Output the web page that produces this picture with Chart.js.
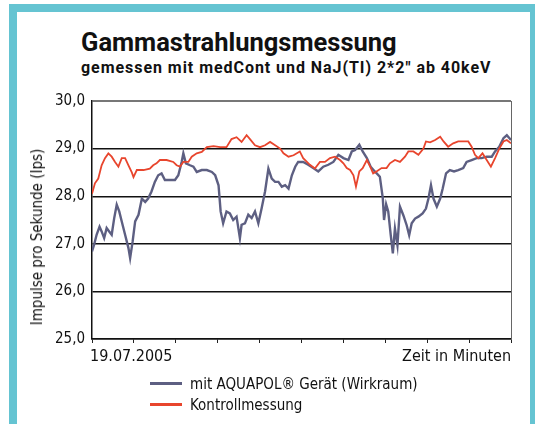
<!DOCTYPE html>
<html lang="de">
<head>
<meta charset="utf-8">
<title>Gammastrahlungsmessung</title>
<script src="https://cdn.jsdelivr.net/npm/chart.js@4.4.1/dist/chart.umd.min.js"></script>
<style>
  html, body { margin: 0; padding: 0; background: #fff; }
  body { width: 535px; height: 424px; position: relative; overflow: hidden; }
  .rahmen { position: absolute; left: 9px; top: 4px; width: 513px; height: 500px; border: 8px solid #65c4d2; }
  .schmal { font-family: "Liberation Sans Narrow", "DejaVu Sans Condensed", sans-serif; color: #111; }
  #titel { position: absolute; left: 81px; top: 29px; font: bold 25.5px Roboto, sans-serif; line-height: 26px; color: #111; }
  #untertitel { position: absolute; left: 81px; top: 60px; font: bold 16px Roboto, sans-serif; letter-spacing: 0.95px; line-height: 16px; color: #111; }
  #diagramm { position: absolute; left: 16px; top: 85px; width: 514px; height: 290px; }
  #ytitel { position: absolute; left: 37px; top: 237px; transform: translate(-50%, -50%) rotate(-90deg); white-space: nowrap; font-size: 15px; }
  #datum { position: absolute; left: 90px; top: 347px; font-size: 16px; line-height: 18px; }
  #zeit { position: absolute; right: 24px; top: 347px; font-size: 16px; line-height: 18px; }
  .legende { position: absolute; left: 150px; font-size: 15px; line-height: 18px; }
  .legende i { display: inline-block; width: 32px; height: 3px; vertical-align: middle; margin-right: 8px; position: relative; top: -1px; }
</style>
</head>
<body>
<div class="rahmen"></div>
<div id="titel">Gammastrahlungsmessung</div>
<div id="untertitel">gemessen mit medCont und NaJ(TI) 2*2" ab 40keV</div>
<div id="diagramm"><canvas id="c"></canvas></div>
<div id="ytitel" class="schmal">Impulse pro Sekunde (Ips)</div>
<div id="datum" class="schmal">19.07.2005</div>
<div id="zeit" class="schmal">Zeit in Minuten</div>
<div class="legende schmal" style="top:375px"><i style="background:#5d5f82"></i>mit AQUAPOL® Gerät (Wirkraum)</div>
<div class="legende schmal" style="top:396px"><i style="background:#e8452d"></i>Kontrollmessung</div>

<script>
// Werte (Zeit als Anteil der Achse 0..100)
const zeitAquapol = [0, 0.5, 1.1, 1.8, 2.3, 2.9, 3.5, 4.1, 4.7, 5.3, 5.9, 6.5, 7.1, 7.9, 8.7, 9.1, 9.7, 10.3, 11.1, 11.9,
  12.7, 13.4, 14.2, 15.0, 15.8, 16.6, 17.4, 18.6, 19.8, 20.6, 21.4, 21.8, 22.4, 23.4, 24.2, 25.0, 26.2, 27.4, 28.6, 29.4,
  30.2, 30.7, 31.3, 32.1, 32.9, 33.7, 34.5, 35.3, 35.7, 36.5, 37.3, 38.1, 38.9, 39.7, 40.5, 41.3, 42.1, 42.9, 43.7, 44.5,
  45.3, 46.1, 46.9, 47.7, 48.5, 49.2, 50.4, 51.6, 52.8, 54.0, 55.2, 56.4, 57.6, 58.8, 60.0, 61.2, 62.0, 62.8, 63.8, 64.6,
  65.6, 66.5, 67.5, 68.7, 69.4, 69.7, 70.2, 70.7, 71.3, 71.8, 72.3, 72.9, 73.5, 74.3, 75.1, 75.7, 76.3, 77.1, 77.9, 78.9,
  79.7, 80.3, 80.9, 81.5, 82.3, 83.1, 83.7, 84.5, 85.4, 86.4, 87.4, 88.6, 89.4, 90.6, 91.8, 93.0, 94.2, 95.4, 96.2, 97.2,
  98.2, 99.0, 100];
const werteAquapol = [26.84, 26.98, 27.19, 27.36, 27.26, 27.12, 27.33, 27.26, 27.19, 27.54, 27.82, 27.68, 27.47, 27.19, 26.91, 26.7, 27.05, 27.47, 27.61, 27.95,
  27.88, 27.95, 28.1, 28.3, 28.44, 28.48, 28.34, 28.34, 28.34, 28.44, 28.72, 28.9, 28.69, 28.65, 28.62, 28.51, 28.55, 28.55, 28.51, 28.44,
  28.23, 27.68, 27.43, 27.68, 27.64, 27.5, 27.57, 27.12, 27.4, 27.43, 27.61, 27.54, 27.68, 27.43, 27.75, 28.1, 28.58, 28.37, 28.3, 28.3,
  28.2, 28.23, 28.16, 28.44, 28.62, 28.72, 28.72, 28.66, 28.59, 28.52, 28.62, 28.66, 28.72, 28.87, 28.8, 28.76, 28.94, 28.97, 29.08, 28.94,
  28.8, 28.62, 28.52, 28.41, 27.96, 27.5, 27.83, 27.68, 27.18, 26.8, 27.32, 26.97, 27.78, 27.6, 27.39, 27.18, 27.43, 27.53, 27.57, 27.64,
  27.74, 27.95, 28.23, 27.95, 27.78, 27.95, 28.16, 28.48, 28.55, 28.52, 28.55, 28.59, 28.72, 28.76, 28.8, 28.8, 28.83, 28.83, 28.94, 29.04,
  29.22, 29.28, 29.18];

const zeitKontrolle = [0, 0.7, 1.5, 2.3, 3.1, 3.9, 4.7, 5.5, 6.3, 7.1, 7.9, 8.7, 9.5, 9.9, 10.7, 12.3, 13.8, 14.6, 15.4, 16.2,
  17.8, 19.4, 20.2, 21.0, 21.8, 23.0, 23.8, 25.0, 26.2, 27.4, 29.0, 30.6, 32.1, 33.3, 34.5, 35.7, 36.9, 37.7, 38.9, 40.1,
  41.3, 42.5, 43.7, 44.9, 45.7, 46.9, 48.1, 49.6, 50.4, 52.0, 53.2, 54.4, 55.6, 56.8, 58.0, 59.2, 60.0, 60.8, 61.6, 62.4,
  63.0, 63.8, 64.6, 65.6, 66.4, 67.1, 67.9, 69.1, 70.3, 71.1, 72.3, 73.5, 74.7, 75.5, 76.7, 77.9, 79.1, 79.7, 80.7, 81.9,
  83.1, 83.9, 85.0, 86.2, 87.4, 88.6, 89.8, 90.6, 91.4, 92.2, 93.2, 94.2, 95.2, 96.2, 97.2, 98.2, 99.0, 100];
const werteKontrolle = [28.05, 28.27, 28.37, 28.65, 28.8, 28.9, 28.83, 28.72, 28.62, 28.8, 28.8, 28.65, 28.5, 28.4, 28.55, 28.55, 28.58, 28.65, 28.69, 28.76,
  28.76, 28.72, 28.65, 28.62, 28.72, 28.72, 28.83, 28.9, 28.93, 29.03, 29.05, 29.03, 29.03, 29.2, 29.24, 29.14, 29.28, 29.2, 29.07, 29.03,
  29.07, 29.14, 29.07, 29.0, 28.9, 28.83, 28.86, 28.94, 28.8, 28.66, 28.58, 28.72, 28.72, 28.8, 28.83, 28.76, 28.69, 28.59, 28.55, 28.44,
  28.2, 28.52, 28.59, 28.76, 28.62, 28.48, 28.52, 28.59, 28.59, 28.69, 28.76, 28.72, 28.83, 28.94, 28.94, 28.87, 29.0, 29.15, 29.13, 29.18,
  29.25, 29.15, 29.04, 29.11, 29.15, 29.15, 29.15, 29.04, 28.87, 28.8, 28.9, 28.76, 28.62, 28.8, 29.0, 29.15, 29.18, 29.11];

const yTicks = [25, 26, 27, 28, 29, 30];

const schmal = "'Liberation Sans Narrow', 'DejaVu Sans Condensed', sans-serif";

function punkte(zeit, werte) {
  return zeit.map((t, i) => ({ x: t, y: werte[i] }));
}

new Chart(document.getElementById("c"), {
  type: "line",
  data: {
    datasets: [
      {
        label: "Kontrollmessung",
        data: punkte(zeitKontrolle, werteKontrolle),
        borderColor: "#e8452d",
        borderWidth: 1.8,
        order: 0,
      },
      {
        label: "mit AQUAPOL® Gerät (Wirkraum)",
        data: punkte(zeitAquapol, werteAquapol),
        borderColor: "#5d5f82",
        borderWidth: 2.4,
        order: 1,
      },
    ],
  },
  options: {
    responsive: true,
    maintainAspectRatio: false,
    animation: false,
    elements: { point: { radius: 0 }, line: { tension: 0 } },
    layout: { padding: { top: 12, right: 19, left: 0, bottom: 0 } },
    plugins: { legend: { display: false }, tooltip: { enabled: false } },
    scales: {
      x: {
        type: "linear",
        min: 0,
        max: 100,
        afterFit: (s) => { s.height = 36; },
        ticks: { stepSize: 10, callback: () => "", font: { size: 1 } },
        grid: { drawOnChartArea: false, drawTicks: true, tickLength: 4, color: "#222", lineWidth: 1 },
        border: { color: "#111", width: 1.5 },
      },
      y: {
        min: 25,
        max: 30,
        afterFit: (s) => { s.width = 76; },
        afterBuildTicks: (s) => { s.ticks = yTicks.map((v) => ({ value: v })); },
        ticks: {
          padding: 7,
          color: "#111",
          font: { family: schmal, size: 15 },
          callback: (v) => v.toFixed(1).replace(".", ","),
        },
        grid: {
          drawTicks: false,
          color: (c) => (c.tick && c.tick.value === 30 ? "#777" : "#111"),
          lineWidth: (c) => (c.tick && c.tick.value === 30 ? 2 : 1.4),
        },
        border: { color: "#111", width: 1.5 },
      },
      y2: {
        position: "right",
        min: 25,
        max: 30,
        afterFit: (s) => { s.width = 0; },
        ticks: { display: false },
        grid: { drawOnChartArea: false, drawTicks: false },
        border: { color: "#666", width: 1 },
      },
    },
  },
});
</script>
</body>
</html>
